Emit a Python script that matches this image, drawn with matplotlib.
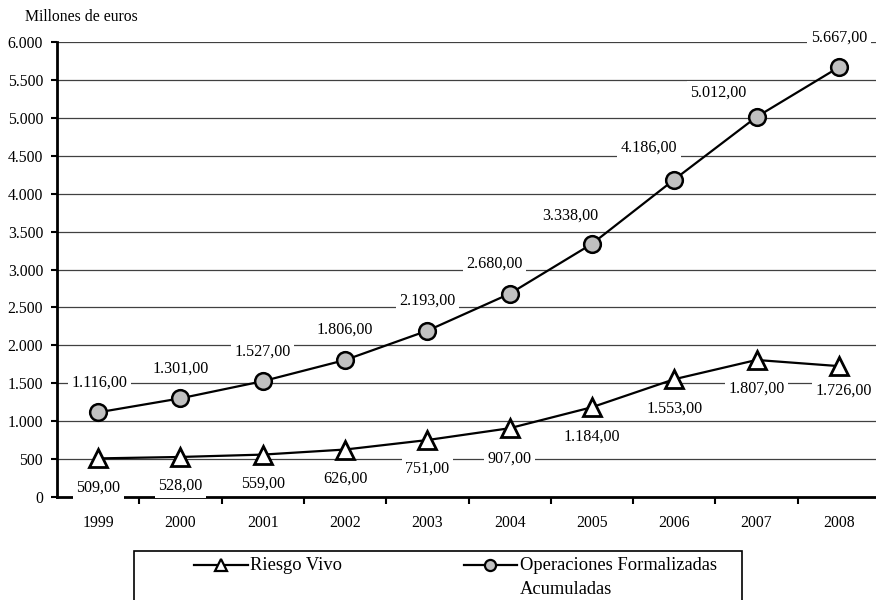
import matplotlib
matplotlib.use("Agg")
import matplotlib.pyplot as plt
from matplotlib.lines import Line2D
from matplotlib.patches import Rectangle

plt.rcParams['font.family'] = ['Liberation Serif', 'DejaVu Serif']

years = ['1999', '2000', '2001', '2002', '2003', '2004', '2005', '2006', '2007', '2008']
riesgo_vivo = [509, 528, 559, 626, 751, 907, 1184, 1553, 1807, 1726]
operaciones = [1116, 1301, 1527, 1806, 2193, 2680, 3338, 4186, 5012, 5667]
yticks = [0, 500, 1000, 1500, 2000, 2500, 3000, 3500, 4000, 4500, 5000, 5500, 6000]

# label offsets in pixels (style)
ops_off = [(1, 30), (0, 30), (0, 30), (0, 30), (0, 30), (-15, 30), (-22, 28), (-25, 32), (-38, 24), (0, 30)]
rv_off = [(0, -29), (0, -29), (0, -29), (0, -29), (0, -29), (0, -30), (0, -29), (0, -29), (0, -29), (5, -25)]

def fmt(v):
    s = f"{v:,.2f}"
    return s.replace(",", "X").replace(".", ",").replace("X", ".")

def fmt_tick(v):
    return f"{int(v):,}".replace(",", ".")

W, H = 876, 600
fig = plt.figure(figsize=(W / 100, H / 100), dpi=100)
ax = fig.add_axes([57 / W, 1 - 497 / H, (W - 57) / W, 455 / H])

x = list(range(len(years)))
ax.set_xlim(-0.5, -0.5 + (W - 57) / 82.3)
ax.set_ylim(0, 6000)

for yv in yticks[1:]:
    ax.axhline(yv, color='#404040', lw=0.9, zorder=1)

ax.plot(x, riesgo_vivo, color='black', lw=1.6, marker='^', ms=13, mfc='white',
        mec='black', mew=2.0, zorder=4, clip_on=False)
ax.plot(x, operaciones, color='black', lw=1.6, marker='o', ms=12, mfc='#c0c0c0',
        mec='black', mew=1.8, zorder=4, clip_on=False)

bbox = dict(facecolor='white', edgecolor='none', pad=2.5)
for i, v in enumerate(operaciones):
    ax.annotate(fmt(v), (i, v), xytext=ops_off[i], textcoords='offset pixels',
                ha='center', va='center', fontsize=11.6, bbox=bbox, zorder=6,
                annotation_clip=False)
for i, v in enumerate(riesgo_vivo):
    ax.annotate(fmt(v), (i, v), xytext=rv_off[i], textcoords='offset pixels',
                ha='center', va='center', fontsize=11.6, bbox=bbox, zorder=6,
                annotation_clip=False)

for s in ['top', 'right']:
    ax.spines[s].set_visible(False)
ax.spines['left'].set_linewidth(2.0)
ax.spines['bottom'].set_linewidth(2.0)
ax.spines['left'].set_zorder(3)
ax.spines['bottom'].set_zorder(3)

ax.set_yticks(yticks)
ax.set_yticklabels([fmt_tick(v) for v in yticks], fontsize=11.3)
ax.tick_params(axis='y', direction='out', length=4, width=1.5, pad=6)

ax.set_xticks([i - 0.5 for i in range(1, len(years))])
ax.set_xticklabels([])
ax.tick_params(axis='x', which='major', direction='out', length=5, width=1.5)
ax.set_xticks(x, minor=True)
ax.set_xticklabels(years, minor=True, fontsize=11.3)
ax.tick_params(axis='x', which='minor', length=0, pad=13)

fig.text(25 / W, 1 - 17 / H, 'Millones de euros', fontsize=11.3, va='center', ha='left')

# legend
fig.patches.append(Rectangle((134 / W, -0.05), (742 - 134) / W, 0.05 + (600 - 551) / H,
                             transform=fig.transFigure, facecolor='white',
                             edgecolor='black', lw=1.2, zorder=1))
ly = 1 - 565 / H
fig.lines.append(Line2D([194 / W, 248 / W], [ly, ly], transform=fig.transFigure,
                        color='black', lw=1.6, zorder=2))
fig.lines.append(Line2D([221 / W], [ly], transform=fig.transFigure, marker='^', ms=8,
                        mfc='white', mec='black', mew=1.6, zorder=3))
fig.text(250 / W, ly, 'Riesgo Vivo', fontsize=13.3, va='center', ha='left')
fig.lines.append(Line2D([464 / W, 517 / W], [ly, ly], transform=fig.transFigure,
                        color='black', lw=1.6, zorder=2))
fig.lines.append(Line2D([490 / W], [ly], transform=fig.transFigure, marker='o', ms=8,
                        mfc='#c0c0c0', mec='black', mew=1.6, zorder=3))
fig.text(520 / W, ly, 'Operaciones Formalizadas', fontsize=13.3, va='center', ha='left')
fig.text(520 / W, 1 - 589 / H, 'Acumuladas', fontsize=13.3, va='center', ha='left')

fig.savefig('out.png', dpi=100)
